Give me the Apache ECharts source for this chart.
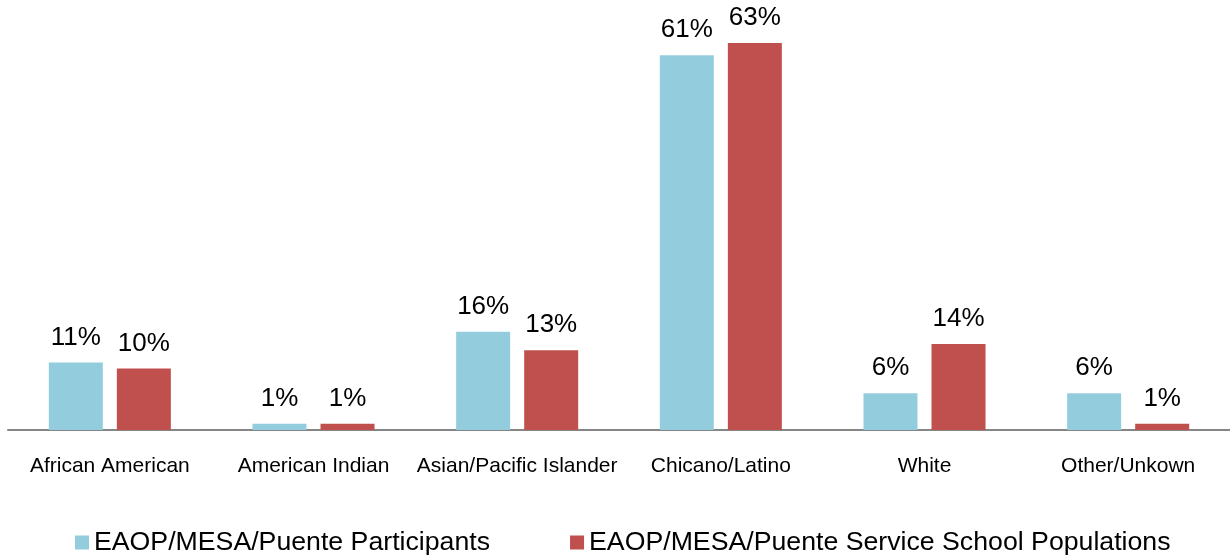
<!DOCTYPE html>
<html>
<head>
<meta charset="utf-8">
<script src="https://cdn.jsdelivr.net/npm/echarts@6/dist/echarts.min.js"></script>
<style>html,body{margin:0;padding:0;background:#fff}#c{width:1230px;height:557px}</style>
</head>
<body>
<div id="c"></div>
<script>
const categories = ["African American", "American Indian", "Asian/Pacific Islander", "Chicano/Latino", "White", "Other/Unkown"];
const seriesNames = ["EAOP/MESA/Puente Participants", "EAOP/MESA/Puente Service School Populations"];
const participants = [11, 1, 16, 61, 6, 6];
const schoolPopulations = [10, 1, 13, 63, 14, 1];

const chart = echarts.init(document.getElementById('c'), null, {renderer: 'canvas'});
const font = 'Liberation Sans, Arial, sans-serif';
const labelCfg = {
  show: true, position: 'top', distance: 12,
  formatter: p => p.value + '%',
  fontFamily: font, fontSize: 26, color: '#000'
};
chart.setOption({
  animation: false,
  backgroundColor: '#fff',
  grid: {left: 8, right: 0, top: 0, bottom: 127, containLabel: false},
  legend: {
    top: 524, left: 70,
    itemWidth: 14, itemHeight: 14, itemGap: 80,
    icon: 'rect',
    textStyle: {fontFamily: font, fontSize: 26.7, color: '#000'},
    data: seriesNames
  },
  xAxis: {
    type: 'category', data: categories,
    axisLine: {lineStyle: {color: '#868686', width: 2}},
    axisTick: {show: false},
    axisLabel: {fontFamily: font, fontSize: 21, color: '#000', margin: 26, interval: 0}
  },
  yAxis: {
    type: 'value', min: 0, max: 70, show: false,
    splitLine: {show: false}
  },
  series: [
    {name: seriesNames[0], type: 'bar', data: participants, barWidth: 54, barGap: '26%',
     itemStyle: {color: '#93CDDD'}, label: labelCfg},
    {name: seriesNames[1], type: 'bar', data: schoolPopulations, barWidth: 54,
     itemStyle: {color: '#C0504D'}, label: labelCfg}
  ]
});
</script>
</body>
</html>
